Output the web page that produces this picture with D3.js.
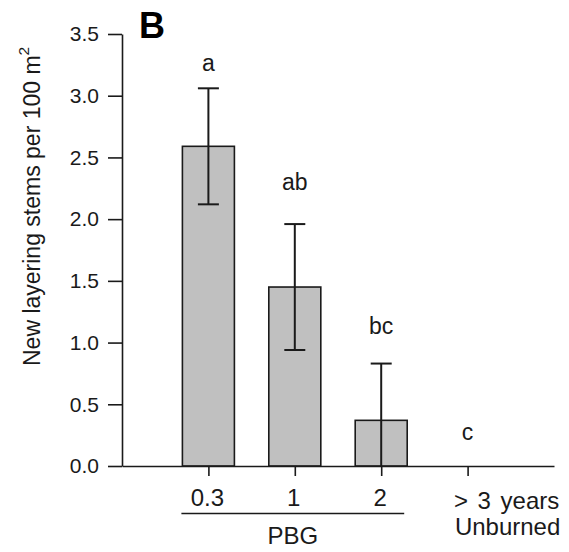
<!DOCTYPE html>
<html>
<head>
<meta charset="utf-8">
<script src="https://cdn.jsdelivr.net/npm/d3@7"></script>
<style>
  html, body { margin: 0; padding: 0; background: #fff; }
  svg { display: block; font-family: "Liberation Sans", Arial, sans-serif; }
</style>
</head>
<body>
<svg id="chart" width="569" height="552"></svg>
<script>
// ---- Data ----
const categories = ["0.3", "1", "2", "> 3 years"];
const sublabels = ["", "", "", "Unburned"];
const means = [2.59, 1.45, 0.37, 0];
const stdErr = [0.47, 0.51, 0.46, 0];
const letters = ["a", "ab", "bc", "c"];
const letterPos = [3.20, 2.236, 1.066, 0.214];
const yTicks = [0, 0.5, 1.0, 1.5, 2.0, 2.5, 3.0, 3.5];
const groupLabel = "PBG";
const panelLabel = "B";
const yLabel = "New layering stems per 100 m";

// ---- Layout ----
const svg = d3.select("#chart");
const mLeft = 122, mRight = 554, mTop = 34, mBottom = 466;
const ink = "#1a1a1a";

const x = d3.scalePoint().domain(categories).range([mLeft, mRight]).padding(1);
const y = d3.scaleLinear().domain([0, 3.5]).range([mBottom, mTop]);
const barW = 52;

// Y axis
const yAxis = svg.append("g")
  .attr("transform", `translate(${mLeft},0)`)
  .call(d3.axisLeft(y).tickValues(yTicks).tickFormat(d3.format(".1f"))
        .tickSize(14).tickSizeOuter(0).tickPadding(9));
yAxis.select(".domain").attr("stroke", ink).attr("stroke-width", 1.6);
yAxis.selectAll(".tick line").attr("stroke", ink).attr("stroke-width", 1.6);
yAxis.selectAll(".tick text").attr("font-size", 21).attr("fill", ink)
  .attr("font-family", "Liberation Sans, Arial, sans-serif");

// Bars
svg.append("g").selectAll("rect")
  .data(means.map((m, i) => ({ c: categories[i], m })).filter(d => d.m > 0))
  .join("rect")
  .attr("x", d => x(d.c) - barW / 2)
  .attr("width", barW)
  .attr("y", d => y(d.m))
  .attr("height", d => y(0) - y(d.m))
  .attr("fill", "#c0c0c0")
  .attr("stroke", ink)
  .attr("stroke-width", 1.6);

// Error bars
const eb = svg.append("g").attr("stroke", ink).attr("stroke-width", 2);
means.forEach((m, i) => {
  if (stdErr[i] <= 0) return;
  const cx = x(categories[i]);
  const hi = m + stdErr[i];
  const lo = Math.max(0, m - stdErr[i]);
  eb.append("line").attr("x1", cx).attr("x2", cx).attr("y1", y(hi)).attr("y2", y(lo));
  eb.append("line").attr("x1", cx - 10.5).attr("x2", cx + 10.5).attr("y1", y(hi)).attr("y2", y(hi));
  if (m - stdErr[i] > 0)
    eb.append("line").attr("x1", cx - 10.5).attr("x2", cx + 10.5).attr("y1", y(lo)).attr("y2", y(lo));
});

// X axis
const xAxis = svg.append("g")
  .attr("transform", `translate(0,${mBottom})`)
  .call(d3.axisBottom(x).tickSize(10).tickSizeOuter(0).tickPadding(12).tickFormat(""));
xAxis.select(".domain").attr("stroke", ink).attr("stroke-width", 1.6);
xAxis.selectAll(".tick line").attr("stroke", ink).attr("stroke-width", 1.6);

// X labels
categories.forEach((c, i) => {
  const last = i === categories.length - 1;
  svg.append("text")
    .attr("x", last ? x(c) + 39 : x(c) - 1)
    .attr("y", last ? 509 : 505.5)
    .attr("text-anchor", "middle")
    .attr("font-size", 24)
    .attr("word-spacing", last ? 3 : 0)
    .attr("fill", ink)
    .text(c);
  if (sublabels[i]) {
    svg.append("text")
      .attr("x", x(c) + 40)
      .attr("y", 535)
      .attr("text-anchor", "middle")
      .attr("font-size", 24)
      .attr("fill", ink)
      .text(sublabels[i]);
  }
});

// Group line + label
const gx0 = x(categories[0]) - 27, gx1 = x(categories[2]) + 23;
svg.append("line").attr("x1", gx0).attr("x2", gx1).attr("y1", 513.5).attr("y2", 513.5)
  .attr("stroke", ink).attr("stroke-width", 1.6);
svg.append("text").attr("x", (gx0 + gx1) / 2).attr("y", 544)
  .attr("text-anchor", "middle").attr("font-size", 24).attr("fill", ink).text(groupLabel);

// Significance letters
svg.append("g").selectAll("text")
  .data(letters.map((l, i) => ({ l, c: categories[i], v: letterPos[i] })))
  .join("text")
  .attr("x", d => x(d.c))
  .attr("y", d => y(d.v))
  .attr("text-anchor", "middle")
  .attr("font-size", 23)
  .attr("fill", ink)
  .text(d => d.l);

// Panel label
svg.append("text").attr("x", 152).attr("y", 37.5).attr("text-anchor", "middle")
  .attr("font-size", 36).attr("font-weight", "bold").attr("fill", "#000").text(panelLabel);

// Y label
const yl = svg.append("text")
  .attr("transform", "translate(39.5,366) rotate(-90)")
  .attr("text-anchor", "start")
  .attr("font-size", 23)
  .attr("fill", ink);
yl.append("tspan").text(yLabel);
yl.append("tspan").attr("font-size", 15.5).attr("dy", -11).text("2");
</script>
</body>
</html>
